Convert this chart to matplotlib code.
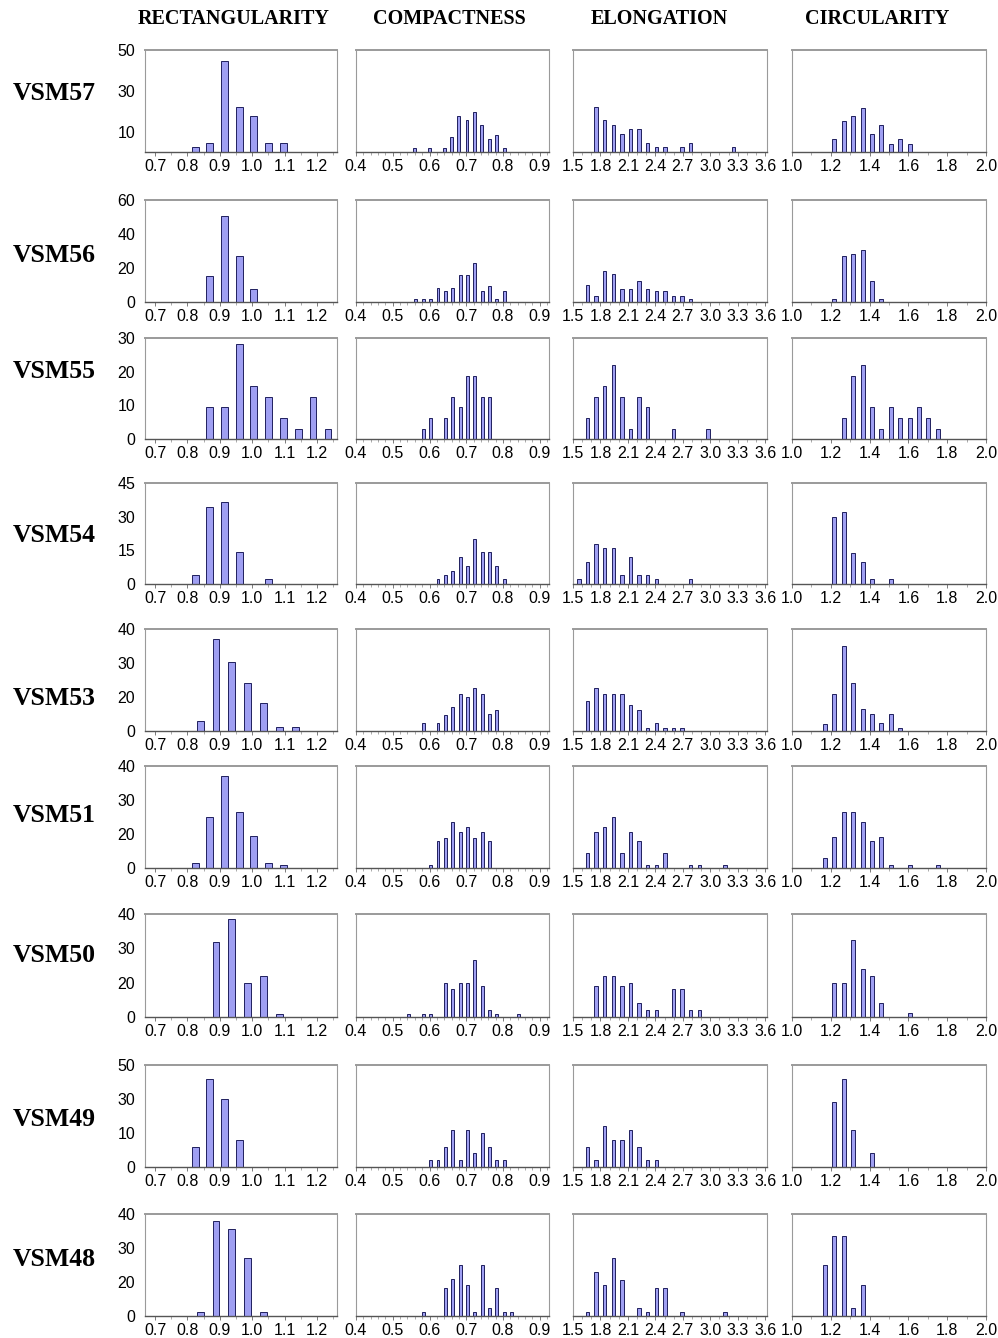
import numpy as np
import matplotlib.pyplot as plt
from matplotlib.ticker import MultipleLocator

plt.rcParams['font.family'] = ['Liberation Sans Narrow', 'Liberation Sans', 'DejaVu Sans']

# --- data (percent of objects per bin) ---
samples = ['VSM57', 'VSM56', 'VSM55', 'VSM54', 'VSM53', 'VSM51', 'VSM50', 'VSM49', 'VSM48']
titles = ['RECTANGULARITY', 'COMPACTNESS', 'ELONGATION', 'CIRCULARITY']

rect_x = [[0.825, 0.869, 0.914, 0.961, 1.005, 1.05, 1.097],
          [0.869, 0.914, 0.961, 1.005],
          [0.869, 0.914, 0.961, 1.005, 1.05, 1.097, 1.142, 1.188, 1.234],
          [0.825, 0.869, 0.914, 0.961, 1.05],
          [0.84, 0.888, 0.937, 0.986, 1.035, 1.084, 1.133],
          [0.825, 0.869, 0.914, 0.961, 1.005, 1.05, 1.097],
          [0.888, 0.937, 0.986, 1.035, 1.084],
          [0.825, 0.869, 0.914, 0.961],
          [0.84, 0.888, 0.937, 0.986, 1.035]]
rect_h = [[2.6, 4.4, 44.7, 22.2, 17.8, 4.4, 4.4],
          [15.2, 50.8, 27, 7.5],
          [9.4, 9.4, 28.3, 15.7, 12.5, 6.3, 3.1, 12.5, 3.1],
          [4, 34.3, 36.4, 14.2, 2.1],
          [4, 36, 27, 19, 11, 1.7, 1.7],
          [2, 20, 36, 22, 12.7, 2, 1],
          [29.3, 38, 13.3, 16, 1.3],
          [10, 43.3, 33.3, 13.3],
          [1.7, 37.3, 34, 22.7, 1.7]]

comp_x = [[0.559, 0.600, 0.640, 0.660, 0.680, 0.702, 0.722, 0.742, 0.762, 0.783, 0.803],
          [0.563, 0.583, 0.603, 0.623, 0.643, 0.663, 0.683, 0.703, 0.723, 0.743, 0.763, 0.783, 0.803],
          [0.583, 0.603, 0.643, 0.663, 0.683, 0.703, 0.723, 0.743, 0.763],
          [0.623, 0.643, 0.663, 0.683, 0.703, 0.723, 0.743, 0.763, 0.783, 0.803],
          [0.583, 0.623, 0.643, 0.663, 0.683, 0.703, 0.723, 0.743, 0.763, 0.783],
          [0.603, 0.623, 0.643, 0.663, 0.683, 0.703, 0.723, 0.743, 0.763],
          [0.543, 0.583, 0.603, 0.643, 0.663, 0.683, 0.703, 0.723, 0.743, 0.763, 0.783, 0.843],
          [0.603, 0.623, 0.643, 0.663, 0.683, 0.703, 0.723, 0.743, 0.763, 0.783, 0.803],
          [0.583, 0.643, 0.663, 0.683, 0.703, 0.723, 0.743, 0.763, 0.783, 0.803, 0.823]]
comp_h = [[2, 2, 2, 7.5, 17.5, 15.5, 19.5, 13, 6.5, 8.5, 2],
          [2, 2, 2, 8, 6.5, 8, 16, 16, 23, 6.5, 9.5, 2, 6.5],
          [3.1, 6.3, 6.3, 12.5, 9.4, 18.8, 18.8, 12.5, 12.5],
          [2.1, 4, 6, 12, 8, 20, 14.2, 14.2, 8, 2.1],
          [3, 3, 6.3, 9.3, 14.7, 13.3, 16.7, 14.7, 6.7, 8.3],
          [1, 10.7, 11.7, 18, 14, 16, 11.7, 14, 10.7],
          [1.3, 1.3, 1.3, 13.3, 10.7, 13.3, 13.3, 22, 12, 2.7, 1.3, 1.3],
          [3.3, 3.3, 10, 18.3, 3.3, 18.3, 6.7, 16.7, 10, 3.3, 3.3],
          [1.7, 11, 14.7, 20, 12.3, 1.7, 20, 3.3, 11, 1.7, 1.7]]

elon_x = [[1.752, 1.846, 1.94, 2.034, 2.128, 2.222, 2.316, 2.41, 2.504, 2.692, 2.786, 3.256],
          [1.658, 1.752, 1.846, 1.94, 2.034, 2.128, 2.222, 2.316, 2.41, 2.504, 2.598, 2.692, 2.786],
          [1.658, 1.752, 1.846, 1.94, 2.034, 2.128, 2.222, 2.316, 2.598, 2.974],
          [1.564, 1.658, 1.752, 1.846, 1.94, 2.034, 2.128, 2.222, 2.316, 2.41, 2.786],
          [1.658, 1.752, 1.846, 1.94, 2.034, 2.128, 2.222, 2.316, 2.41, 2.504, 2.598, 2.692],
          [1.658, 1.752, 1.846, 1.94, 2.034, 2.128, 2.222, 2.316, 2.41, 2.504, 2.786, 2.88, 3.162],
          [1.752, 1.846, 1.94, 2.034, 2.128, 2.222, 2.316, 2.41, 2.598, 2.692, 2.786, 2.88],
          [1.658, 1.752, 1.846, 1.94, 2.034, 2.128, 2.222, 2.316, 2.41],
          [1.658, 1.752, 1.846, 1.94, 2.034, 2.222, 2.316, 2.41, 2.504, 2.692, 3.162]]
elon_h = [[22, 15.5, 13.3, 8.8, 11.2, 11.2, 4.3, 2.3, 2.3, 2.3, 4.3, 2.3],
          [9.8, 3.3, 18.3, 16.7, 7.9, 7.9, 12.4, 7.9, 6.5, 6.5, 3.3, 3.3, 2],
          [6.3, 12.5, 15.6, 21.9, 12.5, 3.1, 12.5, 9.4, 3.1, 3.1],
          [2.1, 10, 18, 16, 16, 4, 12, 4, 4, 2.1, 2.1],
          [11.7, 16.7, 14.7, 14.7, 14.7, 10.3, 8.3, 1, 3.3, 1, 1, 1],
          [6, 14, 16, 20, 6, 14, 10.7, 1, 1, 6, 1, 1, 1],
          [12, 16, 16, 12, 13.3, 5.3, 2.7, 2.7, 10.7, 10.7, 2.7, 2.7],
          [10, 3.3, 20, 13.3, 13.3, 18.3, 10, 3.3, 3.3],
          [1.7, 17.3, 12.3, 22.7, 14, 3, 1.7, 11, 11, 1.7, 1.7]]

circ_x = [[1.218, 1.267, 1.315, 1.364, 1.412, 1.461, 1.509, 1.558, 1.606],
          [1.218, 1.267, 1.315, 1.364, 1.412, 1.461],
          [1.267, 1.315, 1.364, 1.412, 1.461, 1.509, 1.558, 1.606, 1.655, 1.703, 1.752],
          [1.218, 1.267, 1.315, 1.364, 1.412, 1.509],
          [1.17, 1.218, 1.267, 1.315, 1.364, 1.412, 1.461, 1.509, 1.558],
          [1.17, 1.218, 1.267, 1.315, 1.364, 1.412, 1.461, 1.509, 1.606, 1.752],
          [1.218, 1.267, 1.315, 1.364, 1.412, 1.461, 1.606],
          [1.218, 1.267, 1.315, 1.412],
          [1.17, 1.218, 1.267, 1.315, 1.364]]
circ_h = [[6.5, 15.2, 17.5, 21.7, 8.7, 13.1, 4.1, 6.4, 4.1],
          [2, 27, 28.3, 30.3, 12.4, 2],
          [6.3, 18.8, 21.9, 9.4, 3.1, 9.4, 6.3, 6.3, 9.4, 6.3, 3.1],
          [30, 32, 14, 10, 2.1, 2.1],
          [2.7, 14.7, 33.3, 18.7, 8.7, 6.7, 3.3, 6.7, 1.3],
          [4, 12, 22, 22, 18, 10.7, 12, 1, 1, 1],
          [13.3, 13.3, 30, 18.7, 16, 5.3, 1.7],
          [31.7, 43.3, 18.3, 6.7],
          [20, 31.3, 31.3, 3, 12.3]]

y_top = [50, 60, 30, 45, 40, 40, 40, 50, 40]
y_labels = [['10', '30', '50'], ['0', '20', '40', '60'], ['0', '10', '20', '30'],
            ['0', '15', '30', '45'], ['0', '20', '30', '40'], ['0', '20', '30', '40'],
            ['0', '20', '30', '40'], ['0', '10', '30', '50'], ['0', '20', '30', '40']]

x_ticks = [[0.7, 0.8, 0.9, 1.0, 1.1, 1.2],
           [0.4, 0.5, 0.6, 0.7, 0.8, 0.9],
           [1.5, 1.8, 2.1, 2.4, 2.7, 3.0, 3.3, 3.6],
           [1.0, 1.2, 1.4, 1.6, 1.8, 2.0]]

# --- layout ---
W, H = 998, 1338
col_left = [145, 356, 573, 792]
col_w = [192, 193, 194, 194]
row_top = [50, 200, 338, 483, 629, 766, 914, 1065, 1214]
row_h = [102, 102, 101, 101, 102, 102, 103, 102, 102]
label_y = [94, 255, 372, 536, 699, 816, 956, 1120, 1260]
title_x = [234, 449, 659, 877]
xlims = [(0.669, 1.262), (0.40, 0.925), (1.50, 3.62), (1.0, 2.0)]
bar_w = [0.021, 0.008, 0.036, 0.02]
minor = [0.05, 0.02, 0.1, 0.1]

xs = [rect_x, comp_x, elon_x, circ_x]
hs = [rect_h, comp_h, elon_h, circ_h]

fig = plt.figure(figsize=(W / 100, H / 100), dpi=100)

for c, t in enumerate(titles):
    fig.text(title_x[c] / W, 1 - 19 / H, t, ha='center', va='center',
             family='Liberation Serif', weight='bold', fontsize=14.5)

for r in range(len(samples)):
    fig.text(13 / W, 1 - label_y[r] / H, samples[r], ha='left', va='center',
             family='Liberation Serif', weight='bold', fontsize=18.5)
    for c in range(4):
        ax = fig.add_axes([col_left[c] / W, 1 - (row_top[r] + row_h[r]) / H,
                           col_w[c] / W, row_h[r] / H])
        ax.bar(xs[c][r], hs[c][r], width=bar_w[c], color='#9f9ff2',
               edgecolor='#1f1f5e', linewidth=0.7, zorder=2)
        ax.set_xlim(*xlims[c])
        ax.set_ylim(0, y_top[r])
        ax.set_xticks(x_ticks[c])
        ax.set_xticklabels(['%.1f' % v for v in x_ticks[c]])
        ax.xaxis.set_minor_locator(MultipleLocator(minor[c]))
        ax.tick_params(axis='x', which='major', length=3, width=0.6, color='#666666',
                       labelsize=11.5, pad=2)
        ax.tick_params(axis='x', which='minor', length=2, width=0.5, color='#888888')
        if c == 0:
            labs = y_labels[r]
            if r == 0:
                pos = [float(v) for v in labs]
            else:
                pos = np.linspace(0, y_top[r], len(labs))
            ax.set_yticks(pos)
            ax.set_yticklabels(labs)
            ax.tick_params(axis='y', length=0, labelsize=11.5, pad=7)
        else:
            ax.set_yticks([])
        for s in ['top', 'left', 'right']:
            ax.spines[s].set_color('#9a9a9a')
            ax.spines[s].set_linewidth(0.8)
        ax.spines['top'].set_linewidth(1.4)
        ax.spines['bottom'].set_color('#555555')
        ax.spines['bottom'].set_linewidth(1.0)

fig.savefig('out.png', dpi=100, facecolor='white')
